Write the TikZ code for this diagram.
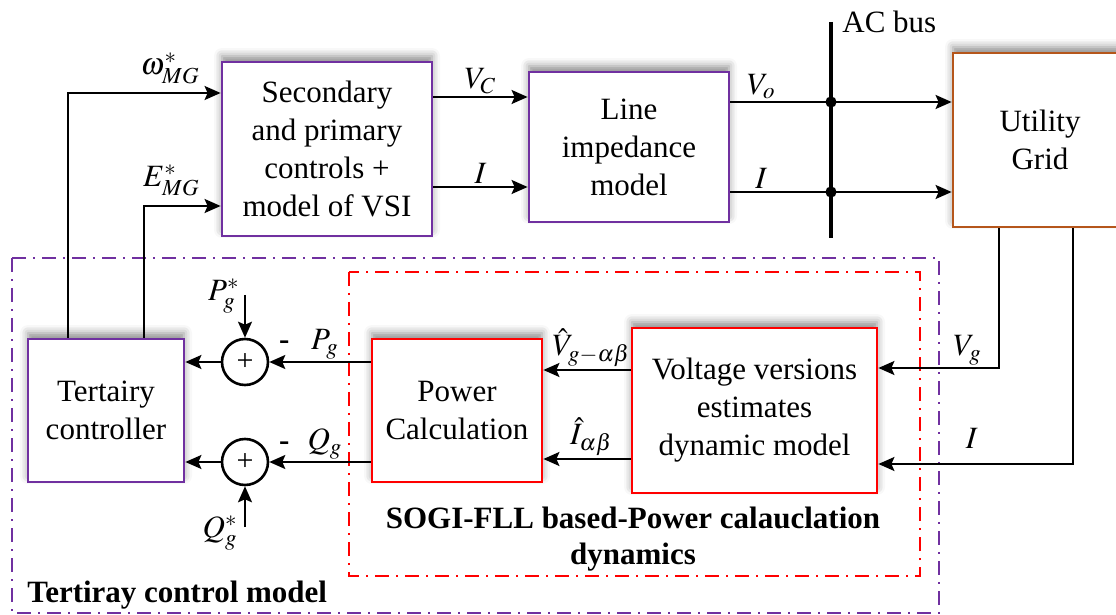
\documentclass[tikz,border=0pt]{standalone}
\usepackage{mathptmx}
\usepackage{fontspec}
\setmainfont{Liberation Serif}
\usetikzlibrary{arrows.meta, positioning, shadows.blur}
\definecolor{ctrlpurple}{HTML}{7030A0}
\definecolor{estred}    {HTML}{FF0000}
\definecolor{gridbrown} {HTML}{B5561B}

\begin{document}
\begin{tikzpicture}[
    x=0.5pt, y=-0.5pt,
    font=\fontsize{15.5pt}{19pt}\selectfont,
    box/.style={draw, line width=1.4pt, fill=white, align=center,
                blur shadow={shadow xshift=0pt, shadow yshift=3pt,
                             shadow blur radius=4pt, shadow opacity=45}},
    ctrl/.style={box, draw=ctrlpurple},
    est/.style={box, draw=estred},
    sum/.style={draw, circle, line width=1.3pt, minimum size=23pt,
                inner sep=0pt, font=\fontsize{15pt}{15pt}\selectfont},
    arr/.style={-{Stealth[length=8pt, width=7pt, inset=1.5pt]}, line width=1pt},
    wire/.style={line width=1pt},
    bus/.style={line width=2.2pt},
    frame/.style={line width=1pt, dash pattern=on 7pt off 3.5pt on 1pt off 3.5pt},
    captext/.style={font=\fontsize{15.5pt}{18pt}\selectfont\bfseries, align=center},
    sig/.style={inner sep=1pt},
  ]
    \useasboundingbox (0,0) rectangle (1116,615);

    % dash-dot frames
    \draw[frame, draw=ctrlpurple] (12,258) rectangle (939,613);
    \draw[frame, draw=estred] (349,272) rectangle (920,576);

    % blocks
    \node[ctrl, minimum width=105pt, minimum height=87pt] (sec) at (327,149)
      {Secondary\\and primary\\controls +\\model of VSI};
    \node[ctrl, minimum width=100pt, minimum height=75pt] (line) at (629,147)
      {Line\\impedance\\model};
    \node[box, draw=gridbrown, minimum width=87pt, minimum height=87pt] (grid) at (1040,140)
      {Utility\\Grid};
    \node[ctrl, minimum width=78pt, minimum height=71.5pt] (tert) at (106,410.5)
      {Tertairy\\controller};
    \node[est, minimum width=85pt, minimum height=71.5pt] (power) at (457,410.5)
      {Power\\Calculation};
    \node[est, minimum width=122.5pt, minimum height=82.5pt] (volt) at (754.5,410.5)
      {Voltage versions\\estimates\\dynamic model};

    \node[sum] (sumP) at (245,362) {+};
    \node[sum] (sumQ) at (245,462) {+};

    % AC bus
    \coordinate (bustop) at (831,22);
    \coordinate (busbot) at (831,238);
    \draw[bus] (bustop) -- (busbot);
    \node[anchor=base west, inner sep=0pt] (acbus) at ([xshift=5.5pt, yshift=-5.5pt]bustop) {AC bus};

    % references from tertiary controller
    \draw[arr] ([xshift=-19pt]tert.north) |- ([yshift=28pt]sec.west)
      node[pos=1, anchor=south east, inner sep=0pt, xshift=-10pt, yshift=4pt] {$\omega^*_{MG}$};
    \draw[arr] ([xshift=19pt]tert.north) |- ([yshift=-28.5pt]sec.west)
      node[pos=1, anchor=south east, inner sep=0pt, xshift=-10pt, yshift=4.5pt] {$E^*_{MG}$};

    % VSI to line impedance
    \draw[arr] ([yshift=26pt]sec.east) -- ([yshift=26pt]sec.east -| line.west)
      node[midway, above, sig] {$V_C$};
    \draw[arr] ([yshift=-19pt]sec.east) -- ([yshift=-19pt]sec.east -| line.west)
      node[midway, above, sig] {$I$};

    % line impedance to grid
    \draw[arr] ([yshift=22.5pt]line.east) -- ([yshift=22.5pt]line.east -| grid.west)
      node[pos=0.14, above, sig] {$V_o$};
    \draw[arr] ([yshift=-22.5pt]line.east) -- ([yshift=-22.5pt]line.east -| grid.west)
      node[pos=0.14, above, sig] {$I$};
    \fill ([yshift=22.5pt]line.east -| bustop) circle (2.8pt);
    \fill ([yshift=-22.5pt]line.east -| bustop) circle (2.8pt);

    % grid measurements
    \draw[arr] ([xshift=-20.5pt]grid.south) |- ([yshift=21.25pt]volt.east)
      node[pos=0.63, above, sig] {$V_g$};
    \draw[arr] ([xshift=16.5pt]grid.south) |- ([yshift=-26.75pt]volt.east)
      node[pos=0.76, above=6pt, sig] {$I$};

    % estimates to power calculation
    \draw[arr] ([yshift=20.25pt]volt.west) -- ([yshift=20.25pt]volt.west -| power.east)
      node[pos=0.45, above, sig] {$\hat{V}_{g-\alpha\beta}$};
    \draw[arr] ([yshift=-24.25pt]volt.west) -- ([yshift=-24.25pt]volt.west -| power.east)
      node[pos=0.45, above, sig] {$\hat{I}_{\alpha\beta}$};

    % power feedback
    \draw[arr] (power.west |- sumP) -- (sumP.east) node[pos=0.45, above, sig] {$P_g$};
    \draw[arr] (power.west |- sumQ) -- (sumQ.east) node[pos=0.45, above, sig] {$Q_g$};
    \node[inner sep=0pt] (minusP) at ([xshift=7.5pt, yshift=8.5pt]sumP.east) {\bfseries -};
    \node[inner sep=0pt] (minusQ) at ([xshift=7.5pt, yshift=8pt]sumQ.east) {\bfseries -};
    \draw[arr] (sumP.west) -- (sumP.west -| tert.east);
    \draw[arr] (sumQ.west) -- (sumQ.west -| tert.east);

    % set-points
    \coordinate (pref) at (245,295);
    \coordinate (qref) at (245,527);
    \draw[arr] (pref) -- (sumP.north);
    \draw[arr] (qref) -- (sumQ.south);
    \node[anchor=east, inner sep=0pt] at ([xshift=-2.5pt, yshift=-0.5pt]pref) {$P_g^*$};
    \node[anchor=east, inner sep=0pt] at ([xshift=-3.5pt, yshift=-3pt]qref) {$Q_g^*$};

    % frame captions
    \node[captext] (sogi) at (633,539) {SOGI-FLL based-Power calauclation\\dynamics};
    \node[captext, anchor=base west, inner sep=0pt] (tcm) at (27,603) {Tertiray control model};
  \end{tikzpicture}
\end{document}
